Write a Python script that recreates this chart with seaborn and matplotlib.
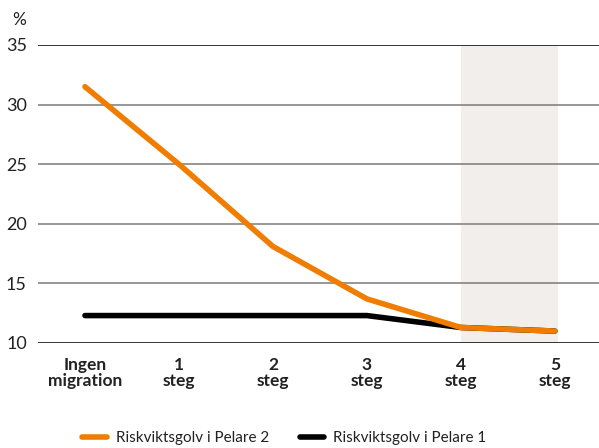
import matplotlib
matplotlib.use("Agg")
import matplotlib.pyplot as plt
import seaborn as sns
import pandas as pd
from matplotlib.lines import Line2D

categories = ["Ingen\nmigration", "1\nsteg", "2\nsteg", "3\nsteg", "4\nsteg", "5\nsteg"]
pelare2 = [31.5, 25.0, 18.1, 13.7, 11.3, 11.0]
pelare1 = [12.3, 12.3, 12.3, 12.3, 11.3, 11.0]
series_names = ["Riskviktsgolv i Pelare 2", "Riskviktsgolv i Pelare 1"]
yticks = [10, 15, 20, 25, 30, 35]

sns.set_theme(style="white")
plt.rcParams["font.family"] = ["Lato", "DejaVu Sans"]

rows = []
for i, v in enumerate(pelare2):
    rows.append({"x": i, "y": v, "serie": series_names[0]})
for i, v in enumerate(pelare1):
    rows.append({"x": i, "y": v, "serie": series_names[1]})
df = pd.DataFrame(rows)

fig = plt.figure(figsize=(5.99, 4.48), dpi=100)
ax = fig.add_axes([0.0634, 0.2344, 0.9366, 0.6652])

# shaded region for the last steps
ax.axvspan(4, 5.03, color="#f2eeec", zorder=0, lw=0)

# horizontal gridlines
for t in yticks:
    c = "#000000" if t in (10, 35) else "#7a7a7a"
    ax.axhline(t, color=c, lw=1.1, zorder=1)

palette = {series_names[0]: "#f07c00", series_names[1]: "#000000"}
sns.lineplot(data=df, x="x", y="y", hue="serie", hue_order=[series_names[1], series_names[0]],
             palette=palette, lw=4, ax=ax, legend=False, zorder=3,
             solid_capstyle="round", solid_joinstyle="round")

ax.set_xlim(-0.5, 5.47)
ax.set_ylim(10, 35)
ax.set_yticks(yticks)
ax.set_yticklabels([str(t) for t in yticks], fontsize=13, color="#222222")
ax.set_xticks(range(len(categories)))
ax.set_xticklabels(categories, fontsize=12.5, fontweight="bold", color="#222222", linespacing=1.0)
ax.tick_params(axis="y", length=0, pad=8)
ax.tick_params(axis="x", length=0, pad=10)
ax.set_xlabel("")
ax.set_ylabel("")
for s in ax.spines.values():
    s.set_visible(False)

fig.text(0.02, 0.955, "%", fontsize=12.5, color="#222222", ha="left", va="center")

handles = [Line2D([0], [0], color="#f07c00", lw=4),
           Line2D([0], [0], color="#000000", lw=4)]
fig.legend(handles, series_names, loc="center", bbox_to_anchor=(0.475, 0.022), ncol=2,
           frameon=False, fontsize=11, handlelength=1.6, handletextpad=0.6, columnspacing=2.0,
           labelcolor="#222222")

fig.savefig("out.png", dpi=100)
